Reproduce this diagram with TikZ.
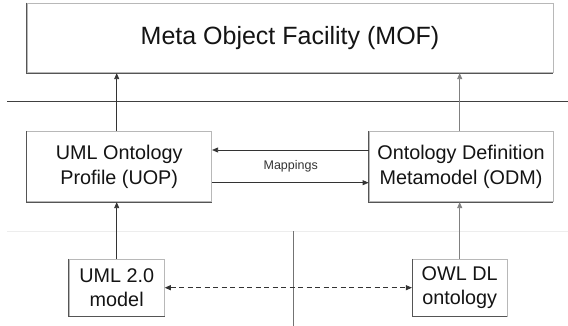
\documentclass[tikz,border=0pt]{standalone}
\usepackage{fontspec}
\setmainfont{Liberation Sans}
\usetikzlibrary{arrows.meta}

\definecolor{ink}{HTML}{141414}
\definecolor{rimdark}{HTML}{555555}
\definecolor{rimlight}{HTML}{B8B8B8}

\tikzset{
  box/.style={draw=rimlight, line width=0.8pt, fill=white, text=ink,
    align=center, inner sep=0pt},
  rim/.style={draw=rimdark, line width=0.9pt},
  big/.style={font=\fontsize{25}{30}\selectfont},
  mid/.style={font=\fontsize{19.8}{25}\selectfont},
  small/.style={font=\fontsize{19.8}{23.5}\selectfont},
  tip/.style={-{Triangle[length=6pt,width=5pt]}},
  link/.style={line width=0.8pt, draw=black!80, tip},
  faintlink/.style={line width=0.8pt, draw=black!50, tip},
  rule/.style={line width=0.8pt, draw=black!75},
}

\begin{document}
\begin{tikzpicture}[x=1pt,y=-1pt]
  \useasboundingbox (0,0) rectangle (568,326);

  % separating rules
  \coordinate (ruleL) at (7,101.7);
  \coordinate (ruleR) at (568,101.7);
  \draw[rule] (ruleL) -- (ruleR);
  \coordinate (faintL) at (7,231.7);
  \coordinate (faintR) at (568,231.7);
  \draw[line width=0.8pt, draw=black!7] (faintL) -- (faintR);
  \coordinate (splitT) at (293.5,231);
  \coordinate (splitB) at (293.5,326);
  \draw[line width=0.8pt, draw=black!55] (splitT) -- (splitB);

  % boxes
  \node[box, big, minimum width=526pt, minimum height=69.7pt] (mof) at (290,37.9)
    {Meta Object Facility (MOF)};
  \node[box, mid, minimum width=185pt, minimum height=70.5pt] (uop) at (119.2,166.5)
    {UML Ontology\\Profile (UOP)};
  \node[box, mid, minimum width=184pt, minimum height=70.5pt] (odm) at (461,166.5)
    {Ontology Definition\\Metamodel (ODM)};
  \node[box, small, minimum width=95.3pt, minimum height=56.7pt] (uml) at (116.7,287.7)
    {UML 2.0\\model};
  \node[box, small, minimum width=94.7pt, minimum height=56.7pt] (owl) at (459.7,287.7)
    {OWL DL\\ontology};

  % darker left and bottom rims
  \foreach \b in {mof,uop,odm,uml,owl}
    \draw[rim] (\b.north west) -- (\b.south west) -- (\b.south east);

  % vertical links
  \draw[link] (uml.north) -- (uml.north |- uop.south);
  \draw[link] (uml.north |- uop.north) -- (uml.north |- mof.south);
  \draw[faintlink] (owl.north) -- (owl.north |- odm.south);
  \draw[faintlink] (owl.north |- odm.north) -- (owl.north |- mof.south);

  % mappings between profile and metamodel
  \draw[link] ([yshift=16.5pt]odm.west) -- ([yshift=16.5pt]uop.east);
  \draw[link] ([yshift=-16.2pt]uop.east) -- ([yshift=-16.2pt]odm.west);
  \node[text=black!80, font=\fontsize{12.5}{15}\selectfont] (map) at (290.7,166) {Mappings};

  % correspondence between model and ontology
  \draw[line width=0.8pt, draw=black!80, dash pattern=on 5pt off 3.5pt,
        {Triangle[length=6pt,width=5pt]}-{Triangle[length=6pt,width=5pt]}]
    (uml.east) -- (owl.west);
\end{tikzpicture}
\end{document}
